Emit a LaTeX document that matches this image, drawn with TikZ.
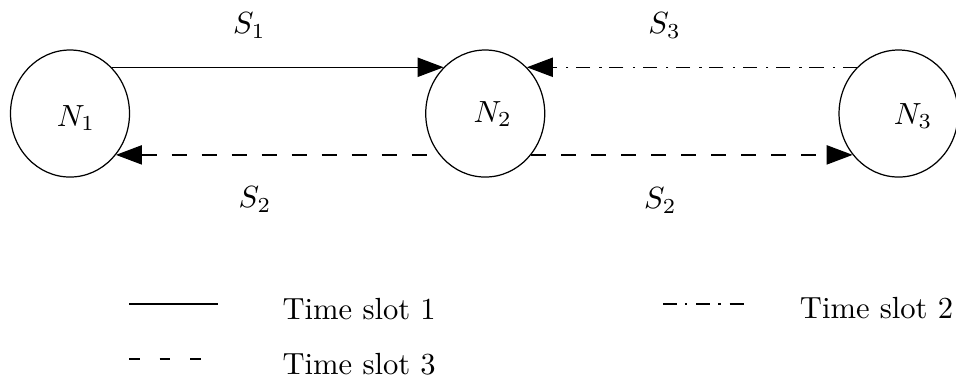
\documentclass[tikz,border=0pt]{standalone}
\usepackage{amsmath}
\usepackage{tikz}
\usetikzlibrary{arrows.meta,positioning,calc,shapes.geometric}

\begin{document}
\begin{tikzpicture}[
    station/.style={ellipse, draw, minimum width=1.367cm, minimum height=1.459cm,
                    inner sep=0pt},
    arr/.style={-{Triangle[length=8.5pt,width=6.3pt]}},
    rarr/.style={{Triangle[length=8.5pt,width=6.3pt]}-},
    slotone/.style={solid},
    slottwo/.style={dash pattern=on 4.6pt off 2.5pt on 0.8pt off 3pt},
    slotthree/.style={dash pattern=on 4.9pt off 4.9pt},
    legtext/.style={anchor=base west, inner sep=0pt},
]
\useasboundingbox (0,0) rectangle (10.98,-4.40);

% Stations
\node[station] (n1) at (0.804,-1.304) {};
\node[station] (n2) at (5.573,-1.304) {};
\node[station] (n3) at (10.32,-1.304) {};
\node (l1) at ($(n1)+(0.069,-0.052)$) {$N_1$};
\node (l2) at ($(n2)+(0.086,-0.006)$) {$N_2$};
\node (l3) at ($(n3)+(0.167,-0.029)$) {$N_3$};

% Transmissions
\draw[slotone, arr] (n1.48) -- node[pos=0.415, yshift=0.479cm] (s1) {$S_1$} (n2.132);
\draw[slotthree, rarr] (n1.-42) -- node[pos=0.43, yshift=-0.513cm] (s2a) {$S_2$} (n2.222);
\draw[slottwo, arr] (n3.132) -- node[pos=0.583, yshift=0.479cm] (s3) {$S_3$} (n2.48);
\draw[slotthree, arr] (n2.-42) -- node[pos=0.402, yshift=-0.525cm] (s2b) {$S_2$} (n3.222);

% Legend
\coordinate (k1a) at (1.482,-3.492);
\coordinate (k1b) at (2.504,-3.492);
\coordinate (k3a) at (1.482,-4.124);
\coordinate (k3b) at (2.504,-4.124);
\coordinate (k2a) at (7.615,-3.492);
\coordinate (k2b) at (8.55,-3.492);
\draw[slotone] (k1a) -- (k1b);
\draw[slotthree, dash pattern=on 3.5pt off 6.5pt] (k3a) -- (k3b);
\draw[slottwo] (k2a) -- (k2b);
\node[legtext] (t1) at (3.239,-3.664) {Time slot 1};
\node[legtext] (t3) at (3.239,-4.296) {Time slot 3};
\node[legtext] (t2) at (9.181,-3.656) {Time slot 2};

\end{tikzpicture}
\end{document}
